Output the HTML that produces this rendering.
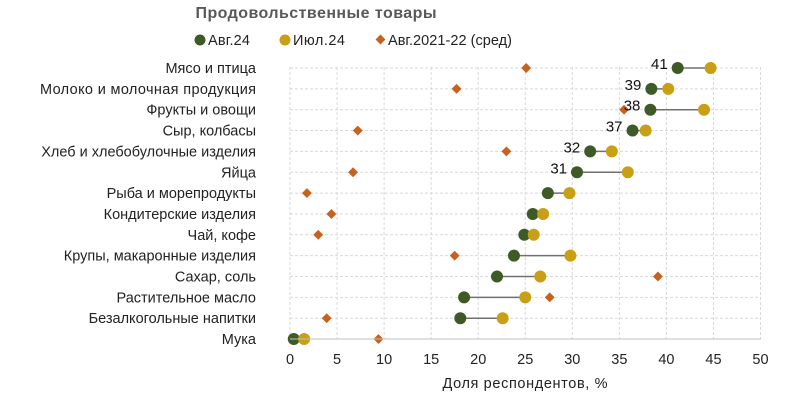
<!DOCTYPE html>
<html><head><meta charset="utf-8"><style>
body{margin:0;background:#fff;}
svg text{font-family:"Liberation Sans","DejaVu Sans",sans-serif;}
</style></head><body>
<svg width="800" height="405" xmlns="http://www.w3.org/2000/svg">
<rect width="800" height="405" fill="#fff"/>
<text x="316" y="18" text-anchor="middle" font-size="16" font-weight="bold" fill="#595959" textLength="241">Продовольственные товары</text>
<circle cx="200" cy="40" r="5.5" fill="#3e5a26"/><text x="208" y="45" font-size="14.5" fill="#222" textLength="42">Авг.24</text>
<circle cx="285" cy="40" r="5.5" fill="#c9a015"/><text x="293" y="45" font-size="14.5" fill="#222" textLength="52">Июл.24</text>
<rect x="377" y="36" width="7" height="7" fill="#c8611e" transform="rotate(45 380.5 39.5)"/><text x="388" y="45" font-size="14.5" fill="#222" textLength="124">Авг.2021-22 (сред)</text>
<g id="grid" stroke="#d9d9d9" stroke-dasharray="3,2" stroke-width="1"></g>
<g id="data"></g>
<text x="525" y="388" text-anchor="middle" font-size="14.5" fill="#222" textLength="165">Доля респондентов, %</text>
<script>
var s="http://www.w3.org/2000/svg";
function X(v){return 290+v*9.41;}
var rows=[["Мясо и птица",41.2,44.7,25.1,"41"],["Молоко и молочная продукция",38.4,40.2,17.7,"39"],["Фрукты и овощи",38.3,44.0,35.5,"38"],["Сыр, колбасы",36.4,37.8,7.2,"37"],["Хлеб и хлебобулочные изделия",31.9,34.2,23.0,"32"],["Яйца",30.5,35.9,6.7,"31"],["Рыба и морепродукты",27.4,29.7,1.8],["Кондитерские изделия",25.8,26.9,4.4],["Чай, кофе",24.9,25.9,3.0],["Крупы, макаронные изделия",23.8,29.8,17.5],["Сахар, соль",22.0,26.6,39.1],["Растительное масло",18.5,25.0,27.6],["Безалкогольные напитки",18.1,22.6,3.9],["Мука",0.4,1.5,9.4]];
var g=document.getElementById("grid"),d=document.getElementById("data"),svg=document.querySelector("svg");
function el(p,t,a){var e=document.createElementNS(s,t);for(var k in a)e.setAttribute(k,a[k]);p.appendChild(e);return e;}
function Y(i){return 68+i*20.85;}
for(var v=0;v<=50;v+=5){el(g,"line",{x1:X(v),x2:X(v),y1:67,y2:339});var t=el(svg,"text",{x:X(v),y:364,"text-anchor":"middle","font-size":"14.5",fill:"#222"});t.textContent=v;}
for(var i=0;i<14;i++){el(g,"line",{x1:290,x2:761,y1:Y(i),y2:Y(i)});}
el(svg,"line",{x1:290,x2:761,y1:339,y2:339,stroke:"#bfbfbf"});
rows.forEach(function(r,i){var y=Y(i);
var t=el(svg,"text",{x:256,y:y+5,"text-anchor":"end","font-size":"14.5",fill:"#222"});t.textContent=r[0];
if(i==1)t.setAttribute("textLength","216");
el(d,"line",{x1:X(r[1]),x2:X(r[2]),y1:y,y2:y,stroke:"#707070","stroke-width":1.5});
el(d,"rect",{x:X(r[3])-3.5,y:y-3.5,width:7,height:7,fill:"#c8611e",transform:"rotate(45 "+X(r[3])+" "+y+")"});
el(d,"circle",{cx:X(r[1]),cy:y,r:6,fill:"#3e5a26"});
el(d,"circle",{cx:X(r[2]),cy:y,r:6,fill:"#c9a015"});
if(r[4]){var l=el(d,"text",{x:X(r[1])-10,y:y+1,"text-anchor":"end","font-size":"15",fill:"#111"});l.textContent=r[4];}
});
</script>
</svg>
</body></html>
